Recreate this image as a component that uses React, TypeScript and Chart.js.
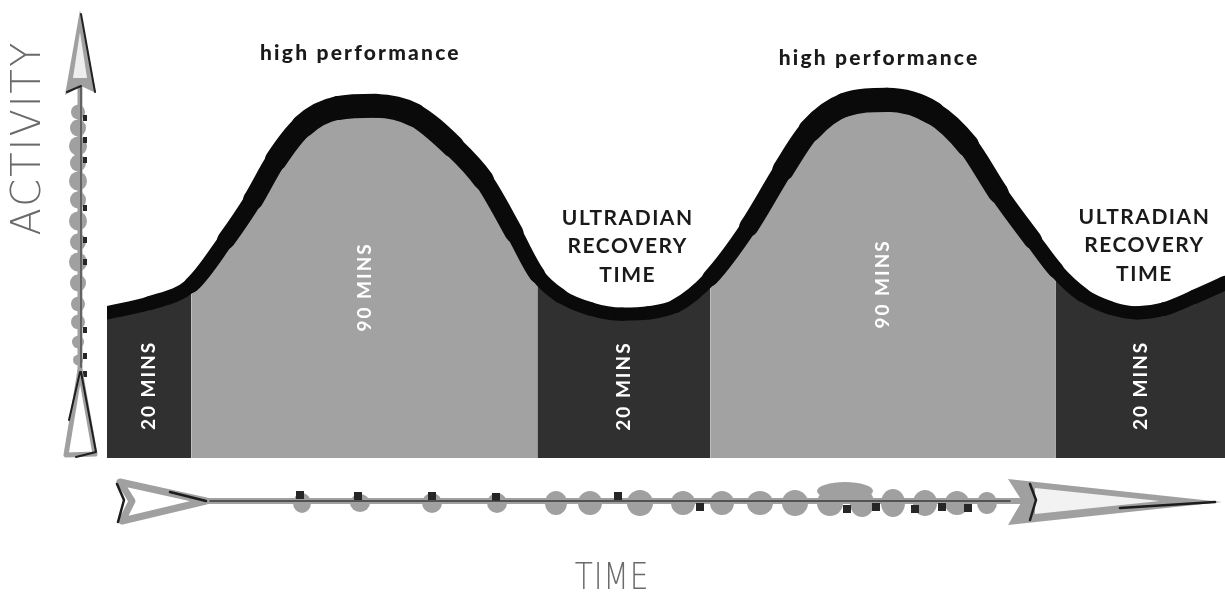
import React, { useEffect, useRef } from "react";
import { Chart, registerables } from "chart.js";

Chart.register(...registerables);

// ---- data ----
const TIME_MIN = [0, 11, 22, 31, 38, 44, 51, 60, 70, 80, 90, 98, 106, 112, 118, 126, 134, 141, 148, 157, 167, 176, 183, 192, 203, 215, 224, 232, 241, 247, 254, 261, 268, 275, 283, 291];
const ACTIVITY = [31.7, 33.8, 37.8, 47.6, 56.3, 65.1, 72.5, 76.4, 76.9, 74.9, 68.1, 60.7, 49.1, 40.0, 35.4, 32.5, 31.4, 31.7, 33.2, 39.3, 50.4, 62.9, 71.6, 77.1, 78.2, 75.3, 68.3, 57.9, 47.6, 41.0, 35.6, 32.8, 31.7, 32.5, 35.2, 38.2];
const PHASE_BOUNDS = [0, 22, 112, 157, 247, 291];
const PHASE_KIND = ["recovery", "performance", "recovery", "performance", "recovery"];
const PHASE_LABELS = ["20 MINS", "90 MINS", "20 MINS", "90 MINS", "20 MINS"];
const PEAK_LABEL = "high performance";
const TROUGH_LABEL = ["ULTRADIAN", "RECOVERY", "TIME"];
const X_TITLE = "TIME";
const Y_TITLE = "ACTIVITY";

const DARK = "#303030";
const LIGHT = "#a2a2a2";
const GRAY = "#a0a0a0";
const INK = "#0a0a0a";

function phaseOf(t: number) {
  for (let i = 0; i < PHASE_KIND.length; i++) {
    if (t >= PHASE_BOUNDS[i] && t <= PHASE_BOUNDS[i + 1]) return i;
  }
  return PHASE_KIND.length - 1;
}

function drawVerticalArrow(ctx: CanvasRenderingContext2D) {
  const x = 80;
  ctx.save();
  ctx.lineCap = "round";
  ctx.lineJoin = "round";
  ctx.strokeStyle = GRAY;
  ctx.lineWidth = 5;
  ctx.beginPath();
  ctx.moveTo(x, 70);
  ctx.lineTo(x, 420);
  ctx.stroke();
  const beads: [number, number][] = [[112, 7], [128, 8], [146, 9], [163, 8], [181, 9], [200, 8], [221, 9], [242, 8], [262, 9], [283, 8], [304, 7], [322, 7], [342, 6], [360, 5]];
  ctx.fillStyle = GRAY;
  for (const [y, r] of beads) {
    ctx.beginPath();
    ctx.ellipse(x - 2, y, r, r * 1.05, 0, 0, Math.PI * 2);
    ctx.fill();
  }
  ctx.fillStyle = "#262626";
  for (const y of [118, 140, 160, 208, 240, 262, 330, 356, 374, 401]) {
    ctx.fillRect(x + 3, y - 3, 4, 6);
  }
  ctx.strokeStyle = "#3a3a3a";
  ctx.lineWidth = 1.2;
  ctx.beginPath();
  ctx.moveTo(x + 1, 85);
  ctx.lineTo(x + 1, 420);
  ctx.stroke();
  // head
  ctx.fillStyle = GRAY;
  ctx.beginPath();
  ctx.moveTo(x, 10);
  ctx.lineTo(x - 15, 95);
  ctx.lineTo(x + 1, 86);
  ctx.lineTo(x + 16, 93);
  ctx.closePath();
  ctx.fill();
  ctx.fillStyle = "#eeeeee";
  ctx.beginPath();
  ctx.moveTo(x, 32);
  ctx.lineTo(x - 7, 78);
  ctx.lineTo(x + 7, 78);
  ctx.closePath();
  ctx.fill();
  ctx.strokeStyle = "#222";
  ctx.lineWidth = 2;
  ctx.beginPath();
  ctx.moveTo(x + 1, 14);
  ctx.lineTo(x + 15, 92);
  ctx.moveTo(x - 13, 92);
  ctx.lineTo(x + 1, 86);
  ctx.stroke();
  // fletching
  ctx.strokeStyle = GRAY;
  ctx.lineWidth = 5;
  ctx.fillStyle = "#ffffff";
  ctx.beginPath();
  ctx.moveTo(x, 370);
  ctx.lineTo(x - 14, 455);
  ctx.lineTo(x + 15, 454);
  ctx.closePath();
  ctx.fill();
  ctx.stroke();
  ctx.strokeStyle = "#1e1e1e";
  ctx.lineWidth = 2;
  ctx.beginPath();
  ctx.moveTo(x + 1, 372);
  ctx.lineTo(x + 16, 452);
  ctx.lineTo(x - 4, 457);
  ctx.moveTo(x, 372);
  ctx.lineTo(x - 11, 420);
  ctx.stroke();
  ctx.restore();
}

function drawHorizontalArrow(ctx: CanvasRenderingContext2D) {
  const y = 501;
  ctx.save();
  ctx.lineCap = "round";
  ctx.lineJoin = "round";
  ctx.strokeStyle = GRAY;
  ctx.lineWidth = 6;
  ctx.beginPath();
  ctx.moveTo(195, y);
  ctx.lineTo(1030, y);
  ctx.stroke();
  ctx.fillStyle = GRAY;
  const beads: [number, number, number][] = [[302, 9, 10], [360, 10, 9], [432, 10, 10], [497, 10, 10], [556, 11, 12], [590, 12, 12], [640, 13, 13], [683, 12, 12], [722, 12, 12], [760, 13, 12], [795, 13, 13], [830, 13, 13], [862, 12, 14], [893, 12, 14], [925, 12, 13], [957, 12, 12], [987, 10, 11]];
  for (const [bx, rx, ry] of beads) {
    ctx.beginPath();
    ctx.ellipse(bx, y + 2, rx, ry, 0, 0, Math.PI * 2);
    ctx.fill();
  }
  ctx.beginPath();
  ctx.ellipse(845, y - 10, 28, 9, 0, 0, Math.PI * 2);
  ctx.fill();
  ctx.fillStyle = "#262626";
  for (const [bx, by] of [[300, -6], [358, -5], [432, -5], [496, -4], [618, -5], [700, 6], [847, 8], [876, 6], [915, 8], [942, 6], [968, 7]]) {
    ctx.fillRect(bx - 4, y + by - 4, 8, 8);
  }
  ctx.strokeStyle = "#3a3a3a";
  ctx.lineWidth = 1.5;
  ctx.beginPath();
  ctx.moveTo(200, y);
  ctx.lineTo(1010, y);
  ctx.stroke();
  // left fletching
  ctx.fillStyle = "#ffffff";
  ctx.strokeStyle = GRAY;
  ctx.lineWidth = 7;
  ctx.beginPath();
  ctx.moveTo(120, 482);
  ctx.lineTo(206, y);
  ctx.lineTo(122, 521);
  ctx.lineTo(132, y);
  ctx.closePath();
  ctx.fill();
  ctx.stroke();
  ctx.strokeStyle = "#1c1c1c";
  ctx.lineWidth = 2.5;
  ctx.beginPath();
  ctx.moveTo(117, 484);
  ctx.lineTo(124, 500);
  ctx.lineTo(118, 522);
  ctx.moveTo(170, 492);
  ctx.lineTo(206, y);
  ctx.stroke();
  // right head
  ctx.fillStyle = GRAY;
  ctx.beginPath();
  ctx.moveTo(1008, 479);
  ctx.lineTo(1222, 502);
  ctx.lineTo(1008, 525);
  ctx.lineTo(1022, y);
  ctx.closePath();
  ctx.fill();
  ctx.fillStyle = "#f2f2f2";
  ctx.beginPath();
  ctx.moveTo(1035, 488);
  ctx.lineTo(1160, 501);
  ctx.lineTo(1035, 514);
  ctx.closePath();
  ctx.fill();
  ctx.strokeStyle = "#1c1c1c";
  ctx.lineWidth = 2.5;
  ctx.beginPath();
  ctx.moveTo(1030, 484);
  ctx.lineTo(1036, 500);
  ctx.lineTo(1030, 520);
  ctx.moveTo(1120, 508);
  ctx.lineTo(1215, 502);
  ctx.stroke();
  ctx.restore();
}

const decorPlugin = {
  id: "decor",
  afterDatasetsDraw(chart: any) {
    const ctx: CanvasRenderingContext2D = chart.ctx;
    const xs = chart.scales.x;
    const ys = chart.scales.y;
    const base = ys.getPixelForValue(0);
    ctx.save();
    // phase labels
    ctx.fillStyle = "#ffffff";
    ctx.font = "bold 19px Lato";
    (ctx as any).letterSpacing = "2px";
    ctx.textAlign = "center";
    ctx.textBaseline = "middle";
    for (let i = 0; i < PHASE_KIND.length; i++) {
      const a = PHASE_BOUNDS[i];
      const b = PHASE_BOUNDS[i + 1];
      const vals = ACTIVITY.filter((_, k) => TIME_MIN[k] >= a && TIME_MIN[k] <= b);
      const ref = PHASE_KIND[i] === "recovery" ? Math.min(...vals) : Math.max(...vals);
      const cx = xs.getPixelForValue((a + b) / 2);
      const cy = (base + ys.getPixelForValue(ref)) / 2 + (PHASE_KIND[i] === "performance" ? 5 : 0);
      ctx.save();
      ctx.translate(cx, cy);
      ctx.rotate(-Math.PI / 2);
      ctx.fillText(PHASE_LABELS[i], 0, 0);
      ctx.restore();
    }
    // peak and trough captions
    ctx.fillStyle = "#1a1a1a";
    let pi = 0;
    const peakY = [53, 58];
    const troughY = [[218, 246, 275], [217, 245, 274]];
    let ti = 0;
    for (let i = 0; i < PHASE_KIND.length; i++) {
      const mid = (PHASE_BOUNDS[i] + PHASE_BOUNDS[i + 1]) / 2;
      const cx = xs.getPixelForValue(mid);
      if (PHASE_KIND[i] === "performance") {
        ctx.font = "900 21px Lato";
        (ctx as any).letterSpacing = "2.2px";
        ctx.fillText(PEAK_LABEL, cx - 4, peakY[pi++]);
      } else if (i > 0) {
        ctx.font = "bold 21px Lato";
        (ctx as any).letterSpacing = "1.5px";
        TROUGH_LABEL.forEach((t, k) => ctx.fillText(t, cx + 4, troughY[ti][k]));
        ti++;
      }
    }
    ctx.restore();
  },
  afterDraw(chart: any) {
    const ctx: CanvasRenderingContext2D = chart.ctx;
    drawVerticalArrow(ctx);
    drawHorizontalArrow(ctx);
    ctx.save();
    ctx.fillStyle = "#6a6a6a";
    ctx.textAlign = "center";
    ctx.textBaseline = "middle";
    ctx.font = "200 40px 'DejaVu Sans'";
    (ctx as any).letterSpacing = "2px";
    ctx.save();
    ctx.translate(30, 138);
    ctx.rotate(-Math.PI / 2);
    ctx.fillText(Y_TITLE, 0, 0);
    ctx.restore();
    ctx.save();
    ctx.translate(612, 579);
    ctx.scale(0.78, 1);
    ctx.font = "200 38px 'DejaVu Sans'";
    (ctx as any).letterSpacing = "1px";
    ctx.fillText(X_TITLE, 0, 0);
    ctx.restore();
    ctx.restore();
  },
};

export default function App() {
  const ref = useRef<HTMLCanvasElement | null>(null);
  useEffect(() => {
    if (!ref.current) return;
    const points = TIME_MIN.map((t, i) => ({ x: t, y: ACTIVITY[i] }));
    const chart = new Chart(ref.current, {
      type: "line",
      data: {
        datasets: [
          {
            label: "activity",
            data: points,
            borderColor: INK,
            borderWidth: 14,
            borderCapStyle: "round",
            borderJoinStyle: "round",
            fill: false,
            pointRadius: 0,
            cubicInterpolationMode: "monotone",
            clip: 0,
            order: 0,
            segment: {
              borderWidth: (c: any) => {
                const a = (c.p0.parsed.y + c.p1.parsed.y) / 2;
                return 13 + Math.max(0, a - 31) * 0.24;
              },
            },
          } as any,
          {
            label: "phases",
            data: points,
            borderWidth: 0,
            borderColor: "rgba(0,0,0,0)",
            backgroundColor: DARK,
            fill: "origin",
            pointRadius: 0,
            cubicInterpolationMode: "monotone",
            order: 1,
            segment: {
              backgroundColor: (c: any) => {
                const m = (c.p0.parsed.x + c.p1.parsed.x) / 2;
                return PHASE_KIND[phaseOf(m)] === "recovery" ? DARK : LIGHT;
              },
            },
          } as any,
        ],
      },
      options: {
        responsive: false,
        animation: false,
        devicePixelRatio: 1,
        layout: { padding: { left: 107, right: 0, top: 0, bottom: 137 } },
        scales: {
          x: { type: "linear", min: 0, max: 291, display: false },
          y: { min: 0, max: 100, display: false },
        },
        plugins: {
          legend: { display: false },
          tooltip: { enabled: false },
        },
      },
      plugins: [decorPlugin],
    });
    return () => chart.destroy();
  }, []);
  return (
    <div style={{ position: "fixed", left: 0, top: 0, width: 1225, height: 595, background: "#fff" }}>
      <canvas ref={ref} width={1225} height={595} style={{ display: "block" }} />
    </div>
  );
}
